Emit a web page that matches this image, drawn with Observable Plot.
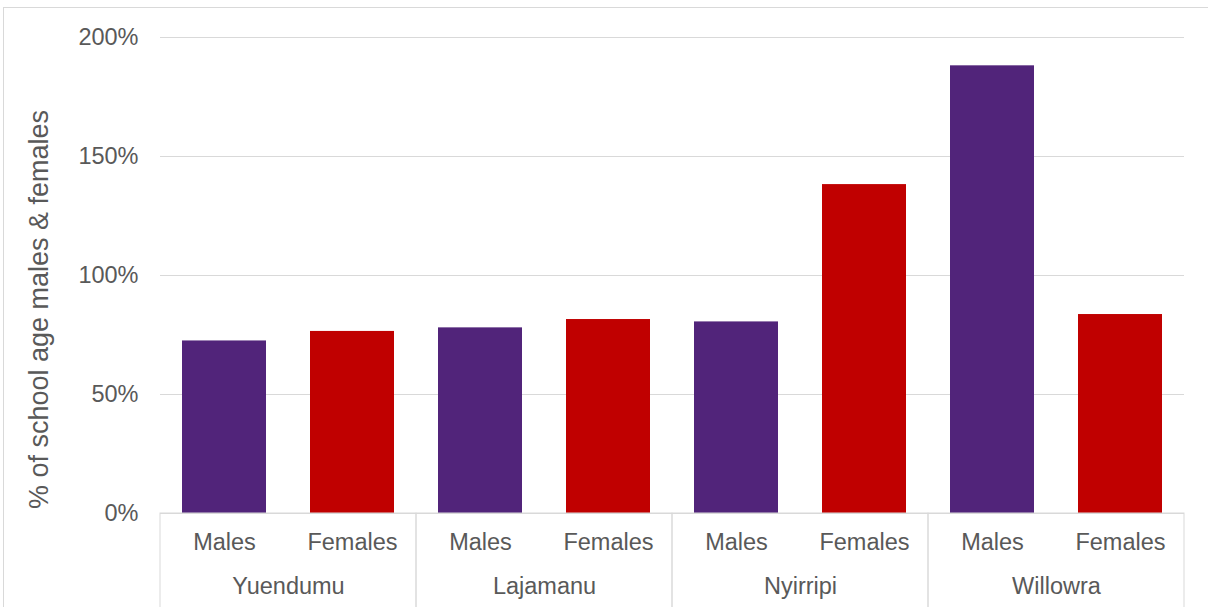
<!DOCTYPE html>
<html>
<head>
<meta charset="utf-8">
<script src="https://cdn.jsdelivr.net/npm/d3@7"></script>
<script src="https://cdn.jsdelivr.net/npm/@observablehq/plot@0.6"></script>
<style>
  body { margin: 0; background: #fff; }
  #wrap { position: relative; width: 1208px; height: 607px; overflow: hidden; background: #fff; }
  #border { position: absolute; left: 3px; top: 7px; width: 1240px; height: 700px; border: 1px solid #d9d9d9; pointer-events: none; }
</style>
</head>
<body>
<div id="wrap"><div id="chart"></div><div id="border"></div></div>
<script>
const communities = ["Yuendumu", "Lajamanu", "Nyirripi", "Willowra"];
const sexes = ["Males", "Females"];
const males = [72.5, 78.0, 80.5, 188.1];
const females = [76.5, 81.5, 138.2, 83.6];
const yTicks = [0, 50, 100, 150, 200];
const yLabel = "% of school age males & females";
const colors = ["#51247A", "#C00000"];

const data = communities.flatMap((c, i) => [
  {community: c, sex: "Males", value: males[i]},
  {community: c, sex: "Females", value: females[i]}
]);

const plot = Plot.plot({
  width: 1208,
  height: 607,
  marginLeft: 158,
  marginRight: 23,
  marginTop: 37,
  marginBottom: 94,
  style: {fontFamily: "'Liberation Sans', Arial, sans-serif", fontSize: "23.5px", color: "#595959", background: "transparent", overflow: "visible"},
  fx: {domain: communities, padding: 0},
  x: {domain: sexes, paddingInner: 0.34, paddingOuter: 0.17},
  y: {domain: [0, 200]},
  color: {domain: sexes, range: colors},
  marks: [
    Plot.gridY({ticks: yTicks, stroke: "#d9d9d9", strokeOpacity: 1, strokeWidth: 1}),
    Plot.barY(data, {fx: "community", x: "sex", y: "value", fill: "sex"}),
    Plot.rect(communities, {fx: d => d, y1: 0, y2: -45, stroke: "#d9d9d9", strokeWidth: 1, fill: "none", clip: false}),
    Plot.axisY({ticks: yTicks, tickFormat: d => d + "%", tickSize: 0, tickPadding: 22, label: null}),
    Plot.axisX({anchor: "bottom", tickSize: 0, tickPadding: 20, label: null}),
    Plot.axisFx({anchor: "bottom", tickSize: 0, tickPadding: 64, label: null}),
    Plot.text([yLabel], {fx: () => communities[0], text: d => d, frameAnchor: "left", rotate: -90, dx: -121, dy: 34, fontSize: 27, fill: "#595959", lineAnchor: "middle", textAnchor: "middle"})
  ]
});
document.getElementById("chart").appendChild(plot);
</script>
</body>
</html>
